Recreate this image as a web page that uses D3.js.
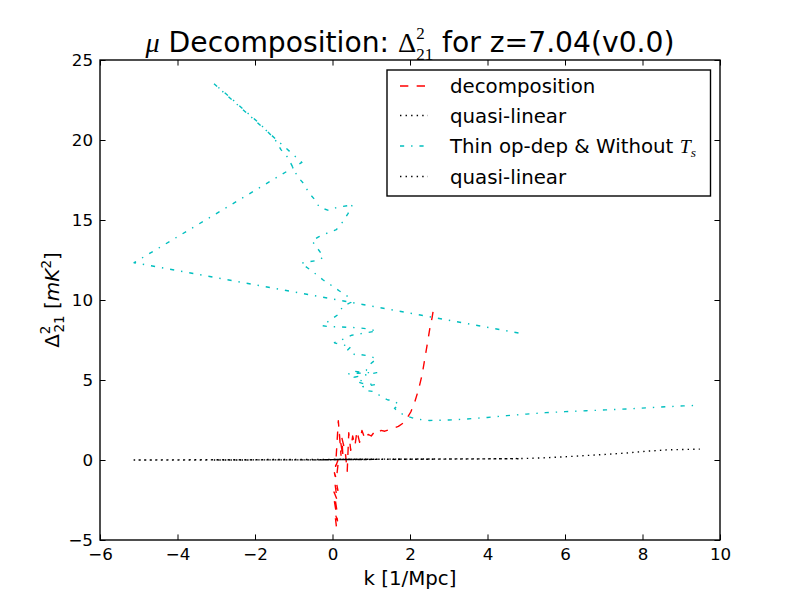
<!DOCTYPE html>
<html>
<head>
<meta charset="utf-8">
<script src="https://cdn.jsdelivr.net/npm/d3@7"></script>
<style>
  html, body { margin: 0; padding: 0; background: #fff; }
  svg { display: block; }
  text { font-family: "DejaVu Sans", sans-serif; fill: #000; }
</style>
</head>
<body>
<svg id="chart" width="800" height="600"></svg>
<script>
// ---------------- data ----------------
const xTicks = [-6, -4, -2, 0, 2, 4, 6, 8, 10];
const yTicks = [-5, 0, 5, 10, 15, 20, 25];

const legendLabels = ["decomposition", "quasi-linear", "Thin op-dep & Without ", "quasi-linear"];

// decomposition (red dashed)
const decompK = [0.10, 0.06, 0.13, 0.05, 0.11, 0.04, 0.12, 0.06, 0.14, 0.05, 0.10, 0.16, 0.08, 0.15, 0.22, 0.18,
                 0.27, 0.24, 0.33, 0.38, 0.42, 0.47, 0.52, 0.58, 0.63, 0.70, 0.76, 0.84, 0.92, 1.00, 1.08, 1.16,
                 1.25, 1.35, 1.46, 1.58, 1.70, 1.82, 1.92, 2.02, 2.12, 2.22, 2.31, 2.38, 2.45, 2.51, 2.57, 2.62];
const decompDelta = [-4.15, -3.3, -3.8, -2.6, -3.1, -2.0, -2.5, -1.4, -1.9, -0.8, -1.2, 0.1, -0.4, 2.45, 0.3, 1.6,
                     0.2, 1.4, 0.5, -0.7, 1.7, 0.6, 1.5, 0.9, 1.8, 1.1, 1.85, 1.3, 1.6, 1.5, 1.75, 1.65,
                     1.85, 1.8, 1.9, 2.0, 2.1, 2.3, 2.6, 3.0, 3.6, 4.4, 5.3, 6.3, 7.3, 8.2, 8.9, 9.65];
// quasi-linear for decomposition k (black dotted)
const quasiDecomp = [0.03, 0.03, 0.03, 0.03, 0.03, 0.03, 0.03, 0.03, 0.03, 0.03, 0.03, 0.04, 0.03, 0.04, 0.04, 0.04,
                     0.04, 0.04, 0.04, 0.05, 0.05, 0.05, 0.05, 0.05, 0.05, 0.05, 0.05, 0.05, 0.05, 0.05, 0.05, 0.05,
                     0.05, 0.05, 0.05, 0.05, 0.05, 0.05, 0.05, 0.05, 0.05, 0.05, 0.05, 0.05, 0.05, 0.05, 0.05, 0.05];

// Thin op-dep & Without Ts (cyan dash-dot)
const thinK = [4.80, -5.12, -0.79, -3.07, -2.66, -2.23, -1.89, -1.50, -1.33, -1.15, -0.90, -0.75, -0.61, -0.45, -0.34, -0.10,
               0.13, 0.40, 0.52, 0.40, 0.27, 0.10, -0.12, -0.36, -0.53, -0.38, -0.23, -0.34, -0.81, -0.64, -0.42, -0.24,
               -0.02, 0.18, 0.41, 0.48, 0.26, 0.15, -0.05, -0.27, -0.08, 0.15, 0.39, 0.65, 0.91, 1.14, 0.74, 0.50,
               0.28, 0.05, 0.25, 0.48, 0.39, 0.59, 0.70, 0.94, 1.14, 0.95, 0.87, 0.74, 0.52, 0.42, 0.65, 0.91,
               1.14, 0.56, 0.74, 0.62, 0.77, 0.91, 1.14, 0.78, 0.91, 1.08, 1.26, 1.43, 1.52, 1.73, 1.60, 1.73,
               1.90, 2.16, 2.50, 3.00, 3.45, 4.00, 4.50, 5.00, 5.50, 6.00, 6.55, 7.05, 7.60, 8.10, 8.62, 9.05, 9.48];
const thinDelta = [7.94, 12.33, 18.60, 23.54, 22.70, 21.77, 21.04, 20.10, 19.40, 18.90, 17.70, 17.30, 16.70, 16.25, 15.80, 15.60,
                   15.80, 15.90, 16.00, 15.40, 14.90, 14.40, 14.20, 13.95, 13.70, 13.20, 12.70, 12.50, 12.30, 12.00, 11.60, 11.25,
                   10.90, 10.56, 10.20, 9.86, 9.58, 9.10, 8.75, 8.40, 8.33, 8.33, 8.29, 8.27, 8.19, 8.06, 7.90, 7.80,
                   7.56, 7.33, 7.20, 7.10, 6.87, 6.56, 6.60, 6.50, 6.33, 5.94, 5.60, 5.48, 5.56, 5.38, 5.42, 5.46,
                   5.46, 5.17, 4.96, 4.90, 4.79, 4.75, 4.73, 4.58, 4.33, 4.27, 3.96, 3.75, 3.75, 3.48, 3.23, 2.96,
                   2.75, 2.56, 2.47, 2.50, 2.56, 2.66, 2.77, 2.87, 2.96, 3.02, 3.08, 3.13, 3.19, 3.26, 3.33, 3.38, 3.42];
// quasi-linear for the same k (black dotted)
const quasiThin = [0.08, 0.00, 0.01, 0.00, 0.00, 0.00, 0.01, 0.01, 0.01, 0.01, 0.01, 0.01, 0.01, 0.01, 0.01, 0.02,
                   0.02, 0.03, 0.03, 0.03, 0.03, 0.02, 0.02, 0.01, 0.01, 0.01, 0.01, 0.01, 0.01, 0.01, 0.01, 0.01,
                   0.02, 0.02, 0.03, 0.03, 0.03, 0.02, 0.02, 0.01, 0.02, 0.02, 0.03, 0.03, 0.04, 0.04, 0.03, 0.03,
                   0.03, 0.02, 0.03, 0.03, 0.03, 0.03, 0.03, 0.04, 0.04, 0.04, 0.04, 0.03, 0.03, 0.03, 0.03, 0.04,
                   0.04, 0.03, 0.03, 0.03, 0.03, 0.04, 0.04, 0.03, 0.04, 0.04, 0.04, 0.04, 0.04, 0.05, 0.04, 0.05,
                   0.05, 0.05, 0.05, 0.06, 0.06, 0.07, 0.08, 0.10, 0.14, 0.20, 0.28, 0.35, 0.44, 0.55, 0.63, 0.66, 0.68];

// ---------------- layout ----------------
const svg = d3.select("#chart");
const W = 800, H = 600;
const m = { left: 100, right: 80, top: 60, bottom: 60 };
const pw = W - m.left - m.right, ph = H - m.top - m.bottom;
const pt = 100 / 72; // points -> px

const x = d3.scaleLinear().domain([-6, 10]).range([m.left, m.left + pw]);
const y = d3.scaleLinear().domain([-5, 25]).range([m.top + ph, m.top]);

svg.append("rect").attr("width", W).attr("height", H).attr("fill", "#fff");

svg.append("defs").append("clipPath").attr("id", "clip")
  .append("rect").attr("x", m.left).attr("y", m.top).attr("width", pw).attr("height", ph);

const line = d3.line().x(d => x(d[0])).y(d => y(d[1]));
const plot = svg.append("g").attr("clip-path", "url(#clip)");

const styles = {
  dashed: { color: "#ff0000", dash: [6 * pt, 6 * pt] },
  dotted: { color: "#000000", dash: [1 * pt, 3 * pt] },
  dashdot: { color: "#00bfbf", dash: [3 * pt, 5 * pt, 1 * pt, 5 * pt] }
};

const series = [
  { data: d3.zip(decompK, decompDelta), st: styles.dashed },
  { data: d3.zip(decompK, quasiDecomp), st: styles.dotted },
  { data: d3.zip(thinK, thinDelta), st: styles.dashdot },
  { data: d3.zip(thinK, quasiThin), st: styles.dotted }
];

series.forEach(s => {
  plot.append("path")
    .datum(s.data)
    .attr("d", line)
    .attr("fill", "none")
    .attr("stroke", s.st.color)
    .attr("stroke-width", 1 * pt)
    .attr("stroke-dasharray", s.st.dash.join(","))
    .attr("stroke-linejoin", "round");
});

// ---------------- axes ----------------
const tickLen = 4 * pt;
const fmt = d3.format("d");
const axB = svg.append("g").attr("transform", `translate(0,${m.top + ph})`)
  .call(d3.axisBottom(x).tickValues(xTicks).tickFormat(fmt).tickSize(-tickLen).tickSizeOuter(0).tickPadding(8));
const axT = svg.append("g").attr("transform", `translate(0,${m.top})`)
  .call(d3.axisTop(x).tickValues(xTicks).tickFormat("").tickSize(-tickLen).tickSizeOuter(0));
const axL = svg.append("g").attr("transform", `translate(${m.left},0)`)
  .call(d3.axisLeft(y).tickValues(yTicks).tickFormat(fmt).tickSize(-tickLen).tickSizeOuter(0).tickPadding(7));
const axR = svg.append("g").attr("transform", `translate(${m.left + pw},0)`)
  .call(d3.axisRight(y).tickValues(yTicks).tickFormat("").tickSize(-tickLen).tickSizeOuter(0));

[axB, axT, axL, axR].forEach(a => {
  a.select(".domain").remove();
  a.selectAll(".tick line").attr("stroke", "#000").attr("stroke-width", 1);
  a.selectAll(".tick text").attr("font-family", "DejaVu Sans").attr("font-size", 16.7).attr("fill", "#000");
});

svg.append("rect")
  .attr("x", m.left).attr("y", m.top).attr("width", pw).attr("height", ph)
  .attr("fill", "none").attr("stroke", "#000").attr("stroke-width", 1 * pt);

// ---------------- labels ----------------
const serif = "Liberation Serif, DejaVu Serif, serif";

// title
const title = svg.append("text")
  .attr("x", m.left + pw / 2).attr("y", 52)
  .attr("text-anchor", "middle").attr("font-size", 28.2);
title.append("tspan").attr("font-family", serif).attr("font-style", "italic").text("μ");
title.append("tspan").text(" Decomposition: ");
title.append("tspan").attr("font-family", serif).text("Δ");
title.append("tspan").attr("font-family", serif).attr("font-size", 17).attr("dy", -13).text("2");
title.append("tspan").attr("font-family", serif).attr("font-size", 17).attr("dx", -8.5).attr("dy", 21).text("21");
title.append("tspan").attr("dy", -8).text(" for z=7.04(v0.0)");

// x label
svg.append("text")
  .attr("x", m.left + pw / 2).attr("y", 585)
  .attr("text-anchor", "middle").attr("font-size", 19.8)
  .text("k [1/Mpc]");

// y label
const yl = svg.append("text")
  .attr("transform", "translate(59,300) rotate(-90)")
  .attr("text-anchor", "middle").attr("font-size", 20).attr("font-family", serif);
yl.append("tspan").text("Δ");
yl.append("tspan").attr("font-size", 13.5).attr("dy", -9).text("2");
yl.append("tspan").attr("font-size", 13.5).attr("dx", -7).attr("dy", 14).text("21");
yl.append("tspan").attr("dy", -5).text("  [");
yl.append("tspan").attr("font-style", "italic").text("mK");
yl.append("tspan").attr("font-size", 13.5).attr("dy", -8).text("2");
yl.append("tspan").attr("dy", 8).text("]");

// ---------------- legend ----------------
const lg = svg.append("g");
lg.append("rect")
  .attr("x", 387).attr("y", 70).attr("width", 323.5).attr("height", 126)
  .attr("fill", "#fff").attr("stroke", "#000").attr("stroke-width", 1 * pt);

const legendStyles = [styles.dashed, styles.dotted, styles.dashdot, styles.dotted];
const rowY = [86, 115.5, 146, 176.5];
legendLabels.forEach((lab, i) => {
  const st = legendStyles[i];
  lg.append("line")
    .attr("x1", 400).attr("x2", 428).attr("y1", rowY[i]).attr("y2", rowY[i])
    .attr("stroke", st.color).attr("stroke-width", 1 * pt)
    .attr("stroke-dasharray", st.dash.join(","));
  const t = lg.append("text")
    .attr("x", 450).attr("y", rowY[i] + 7)
    .attr("font-size", 19.8);
  t.append("tspan").text(lab);
  if (i === 2) {
    t.append("tspan").attr("font-family", serif).attr("font-style", "italic").text("T");
    t.append("tspan").attr("font-family", serif).attr("font-style", "italic")
      .attr("font-size", 13.5).attr("dy", 4).text("s");
  }
});
</script>
</body>
</html>
